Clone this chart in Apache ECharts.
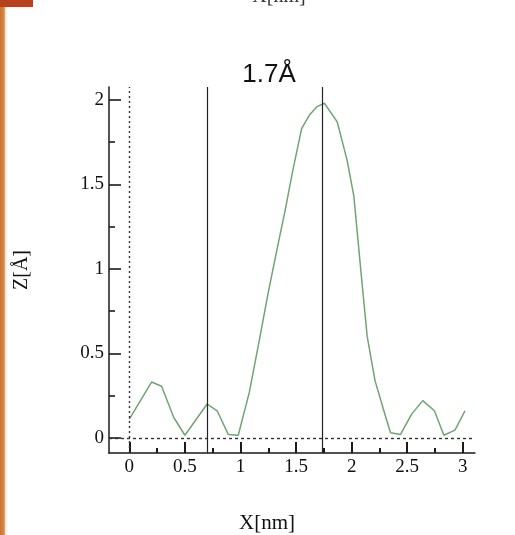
<!DOCTYPE html>
<html><head><meta charset="utf-8">
<script src="https://cdn.jsdelivr.net/npm/echarts@6/dist/echarts.min.js"></script>
<style>html,body{margin:0;padding:0;background:#fff}#c{width:515px;height:535px}</style>
</head><body><div id="c"></div>
<script>
// Profile data (X in nm, Z in Å)
const xNm = [0.0, 0.2, 0.29, 0.4, 0.5, 0.7, 0.79, 0.89, 0.98, 1.08, 1.17, 1.25, 1.33, 1.40, 1.47, 1.55, 1.62, 1.69, 1.755, 1.87, 1.96, 2.02, 2.08, 2.14, 2.21, 2.29, 2.35, 2.44, 2.54, 2.64, 2.745, 2.83, 2.93, 3.02];
const zA  = [0.11, 0.33, 0.305, 0.12, 0.015, 0.20, 0.16, 0.02, 0.015, 0.27, 0.58, 0.86, 1.12, 1.34, 1.58, 1.83, 1.91, 1.96, 1.98, 1.87, 1.64, 1.43, 1.01, 0.60, 0.34, 0.16, 0.03, 0.02, 0.14, 0.22, 0.16, 0.015, 0.045, 0.16];
const cursorX = [0.70, 1.74];
const xMajorTicks = [0, 0.5, 1, 1.5, 2, 2.5, 3];
const xMinorTicks = [0.25, 0.75, 1.25, 1.75, 2.25, 2.75];
const yMajorTicks = [0, 0.5, 1, 1.5, 2];
const yMinorTicks = [0.25, 0.75, 1.25, 1.75];
const titleText = '1.7Å';
const xName = 'X[nm]';
const yName = 'Z[Å]';

const serif = "'Liberation Serif','DejaVu Serif',serif";
const sans = "'Liberation Sans',Arial,sans-serif";
const xMin = -0.183, xMax = 3.11, yMin = -0.09, yMax = 2.076;
const axisCol = '#1a1a1a';

const chart = echarts.init(document.getElementById('c'));
const pts = xNm.map((x, i) => [x, zA[i]]);

chart.setOption({
  animation: false,
  grid: {left: 109, top: 87, right: 40, bottom: 82},
  xAxis: [
    {type: 'value', min: xMin, max: xMax, position: 'bottom',
     axisLine: {show: true, onZero: false, lineStyle: {color: axisCol, width: 1.5}},
     axisTick: {show: true, inside: true, length: 11, customValues: xMajorTicks, lineStyle: {color: axisCol, width: 2}},
     axisLabel: {show: true, customValues: xMajorTicks, margin: 5, color: '#111', fontFamily: serif, fontSize: 19},
     splitLine: {show: false}},
    {type: 'value', min: xMin, max: xMax, position: 'bottom',
     axisLine: {show: false, onZero: false},
     axisTick: {show: true, inside: true, length: 5, customValues: xMinorTicks, lineStyle: {color: axisCol, width: 2}},
     axisLabel: {show: false},
     splitLine: {show: false}}
  ],
  yAxis: [
    {type: 'value', min: yMin, max: yMax, position: 'left',
     name: yName, nameLocation: 'middle', nameGap: 77, nameRotate: 90,
     nameTextStyle: {color: '#111', fontFamily: serif, fontSize: 20},
     axisLine: {show: true, onZero: false, lineStyle: {color: axisCol, width: 1.5}},
     axisTick: {show: true, inside: true, length: 12, customValues: yMajorTicks, lineStyle: {color: axisCol, width: 1.6}},
     axisLabel: {show: true, customValues: yMajorTicks, margin: 5, color: '#111', fontFamily: serif, fontSize: 19},
     splitLine: {show: false}},
    {type: 'value', min: yMin, max: yMax, position: 'left',
     axisLine: {show: false, onZero: false},
     axisTick: {show: true, inside: true, length: 6, customValues: yMinorTicks, lineStyle: {color: axisCol, width: 1.6}},
     axisLabel: {show: false},
     splitLine: {show: false}}
  ],
  series: [
    {type: 'line', data: pts, symbol: 'none', silent: true,
     lineStyle: {color: '#72a472', width: 1.5}},
    {type: 'line', data: [], markLine: {silent: true, symbol: 'none', label: {show: false},
       data: [
         {xAxis: 0, lineStyle: {type: [2, 3], color: '#333', width: 1.4}},
         {yAxis: 0, lineStyle: {type: [3, 3], color: '#333', width: 1.4}},
         ...cursorX.map(v => ({xAxis: v, lineStyle: {type: 'solid', color: '#222', width: 1.2}}))
       ]}}
  ],
  graphic: [
    {type: 'text', style: {x: 269, y: 75, text: titleText, textAlign: 'center', textVerticalAlign: 'middle', font: '26px ' + sans, fill: '#111'}},
    {type: 'text', style: {x: 267, y: 523, text: xName, textAlign: 'center', textVerticalAlign: 'middle', font: '21px ' + serif, fill: '#111'}},
    {type: 'text', style: {x: 279, y: 7, text: xName, textAlign: 'center', textVerticalAlign: 'bottom', font: '20px ' + serif, fill: '#333'}},
    {type: 'rect', shape: {x: 0, y: 0, width: 33, height: 7}, style: {fill: '#b4421c'}},
    {type: 'rect', shape: {x: 0, y: 7, width: 7, height: 528},
     style: {fill: new echarts.graphic.LinearGradient(0, 0, 1, 0, [
       {offset: 0, color: '#c9732f'}, {offset: 0.6, color: '#d48a4a'}, {offset: 1, color: 'rgba(255,255,255,0)'}])}}
  ]
});
</script></body></html>
